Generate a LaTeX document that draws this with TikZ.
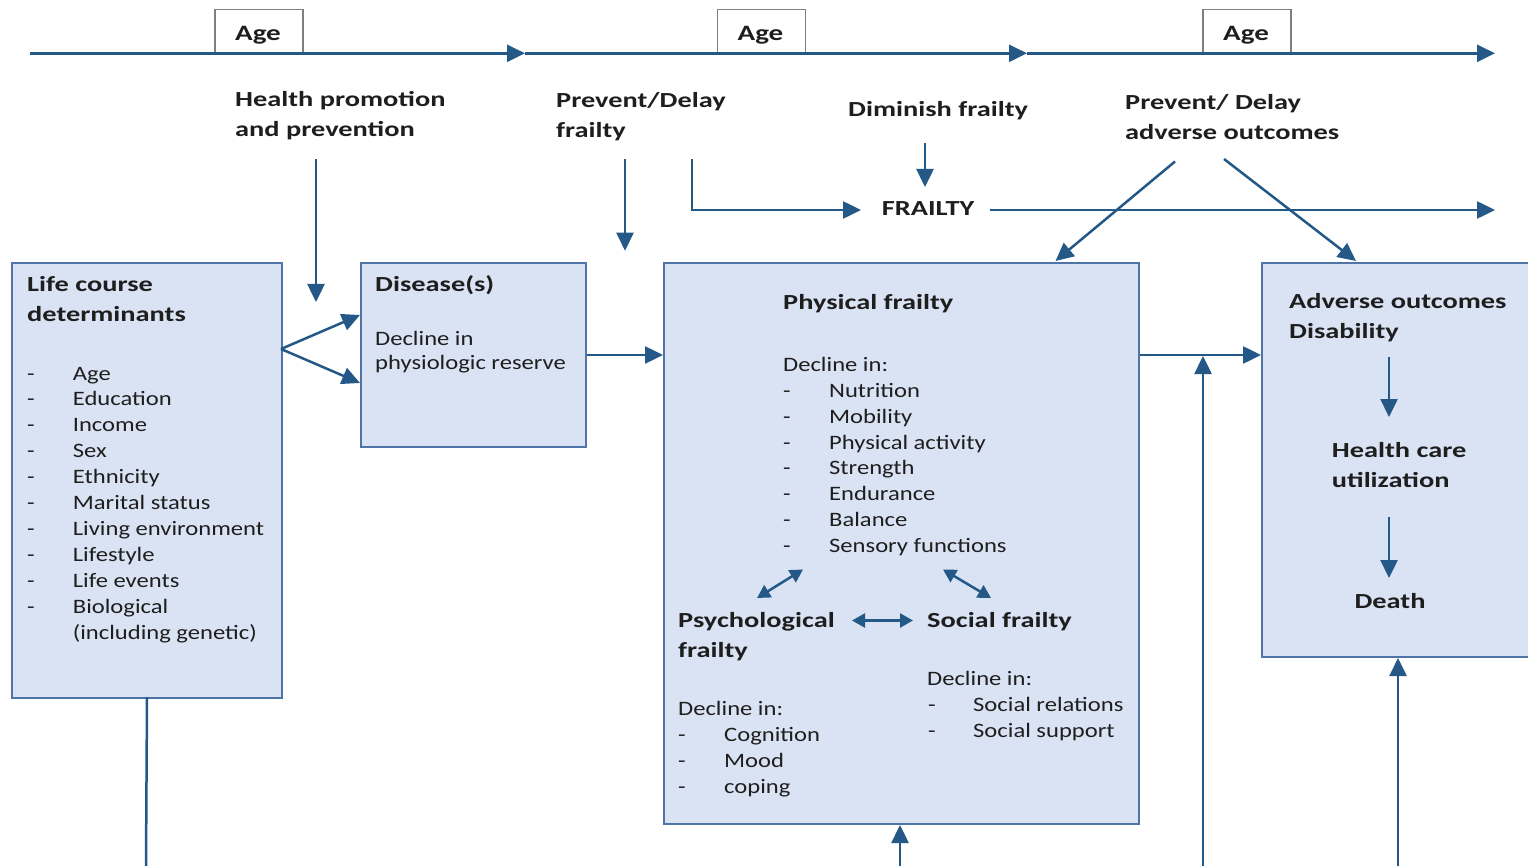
\documentclass[tikz,border=0pt]{standalone}
\usepackage{fontspec}
\setmainfont{Carlito}
\newfontfamily\rfam{Carlito}[FakeStretch=1.2]
\newfontfamily\bfam{Carlito}[FakeStretch=1.32]
\usetikzlibrary{arrows.meta}
\definecolor{arr}{HTML}{245887}
\definecolor{boxfill}{HTML}{DAE3F3}
\definecolor{boxline}{HTML}{4E74A8}
\definecolor{agel}{HTML}{7F7F7F}
\definecolor{txt}{HTML}{1E1E1E}
\begin{document}
\begin{tikzpicture}[x=1pt,y=-1pt,
  box/.style={draw=boxline, fill=boxfill, line width=2pt, inner sep=0pt, anchor=north west},
  agebox/.style={draw=agel, fill=white, line width=1.6pt, inner sep=0pt, minimum width=88pt, minimum height=43pt, anchor=south west},
  agetxt/.style={anchor=base, inner sep=0pt, font=\fontsize{22}{26}\bfam\bfseries, text=txt},
  conn/.style={draw=arr, line width=2.5pt, -{Triangle[length=18pt,width=17pt]}},
  plain/.style={draw=arr, line width=2.5pt},
  dbl/.style={draw=arr, line width=2.5pt, {Triangle[length=13pt,width=14pt]}-{Triangle[length=13pt,width=14pt]}},
  bt/.style={anchor=base west, inner sep=0pt, font=\fontsize{21.5}{30}\bfam\bfseries, text=txt},
  rt/.style={anchor=base west, inner sep=0pt, font=\fontsize{20.5}{25.9}\rfam, text=txt}
]
\clip (0,0) rectangle (1528,866);
\fill[white] (0,0) rectangle (1528,866);

% ---------- top time line ----------
\coordinate (tl0) at (30,53.3);
\coordinate (tl1) at (525,53.3);
\coordinate (tl2) at (1027,53.3);
\coordinate (tl3) at (1495,53.3);
\node[agebox] (age1) at (214,53.3) {};
\node[agebox] (age2) at (716.5,53.3) {};
\node[agebox] (age3) at (1202,53.3) {};
\node[agetxt] (age1t) at (258,40.5) {Age};
\node[agetxt] (age2t) at (760.5,40.5) {Age};
\node[agetxt] (age3t) at (1246,40.5) {Age};
\draw[conn] (tl0) -- (tl1);
\draw[conn] (tl1) -- (tl2);
\draw[conn] (tl2) -- (tl3);

% ---------- intervention labels ----------
\node[bt] (hp1) at (235,106.5) {Health promotion};
\node[bt] (hp2) at (235,136.5) {and prevention};
\node[bt] (pd1) at (556,108) {Prevent/Delay};
\node[bt] (pd2) at (556,138) {frailty};
\node[bt] (dim) at (848,116.7) {Diminish frailty};
\node[bt] (fr) at (881.7,216) {FRAILTY};
\node[bt] (pa1) at (1125,110) {Prevent/ Delay};
\node[bt] (pa2) at (1125,140) {adverse outcomes};

% ---------- boxes ----------
\node[box, minimum width=270pt, minimum height=435pt] (lcd) at (11,262) {};
\node[box, minimum width=225pt, minimum height=184pt] (dis) at (360,262) {};
\node[box, minimum width=475pt, minimum height=561pt] (phys) at (663,262) {};
\node[box, minimum width=280pt, minimum height=394pt] (adv) at (1261,262) {};

% ---------- life course box text ----------
\node[bt] (lct1) at (27,292) {Life course};
\node[bt] (lct2) at (27,322) {determinants};
\foreach \t [count=\i from 0] in {Age,Education,Income,Sex,Ethnicity,Marital status,Living environment,Lifestyle,Life events,Biological}
  \node[rt] (lci\i) at (27,380+25.9*\i) {\makebox[45.7pt][l]{-}\t};
\node[rt] (lci10) at (72.7,639) {(including genetic)};

% ---------- disease box text ----------
\node[bt] (dist) at (375,292) {Disease(s)};
\node[rt] (dis1) at (375,345) {Decline in};
\node[rt] (dis2) at (375,370) {physiologic reserve};

% ---------- physical frailty box text ----------
\node[bt] (pht) at (783,310) {Physical frailty};
\node[rt] (phd) at (783,371.7) {Decline in:};
\foreach \t [count=\i from 0] in {Nutrition,Mobility,Physical activity,Strength,Endurance,Balance,Sensory functions}
  \node[rt] (phi\i) at (783,397.3+25.85*\i) {\makebox[46pt][l]{-}\t};

\node[bt] (pst1) at (678,627) {Psychological};
\node[bt] (pst2) at (678,657.6) {frailty};
\node[rt] (psd) at (678,715) {Decline in:};
\foreach \t [count=\i from 0] in {Cognition,Mood,coping}
  \node[rt] (psi\i) at (678,741+26*\i) {\makebox[46pt][l]{-}\t};

\node[bt] (sot) at (927,627) {Social frailty};
\node[rt] (sod) at (927,685) {Decline in:};
\foreach \t [count=\i from 0] in {Social relations,Social support}
  \node[rt] (soi\i) at (928,711+26*\i) {\makebox[45pt][l]{-}\t};

% ---------- adverse outcomes box text ----------
\node[bt] (adt1) at (1289,309) {Adverse outcomes};
\node[bt] (adt2) at (1289,338.5) {Disability};
\node[bt] (hc1) at (1331.7,457.5) {Health care};
\node[bt] (hc2) at (1331.7,487.7) {utilization};
\node[bt, anchor=base] (death) at (1390,608.7) {Death};

% ---------- coordinates for free connector ends ----------
\coordinate (hpA) at (316,159);
\coordinate (hpB) at (316,302);
\coordinate (pdA) at (625,159);
\coordinate (pdB) at (625,250.7);
\coordinate (lA) at (692,159);
\coordinate (lB) at (692,210);
\coordinate (lC) at (861,210);
\coordinate (dmA) at (925,143.3);
\coordinate (dmB) at (925,187);
\coordinate (frA) at (990,210);
\coordinate (frB) at (1495,210);
\coordinate (paA) at (1175,161.5);
\coordinate (paB) at (1055.5,261);
\coordinate (paC) at (1224,159);
\coordinate (paD) at (1356,261);
\coordinate (fk) at (281,349);
\coordinate (fk1) at (360,315);
\coordinate (fk2) at (360,383);
\coordinate (b1) at (146,866);
\coordinate (b2) at (900,866);
\coordinate (b3) at (1203,866);
\coordinate (b3t) at (1203,356);
\coordinate (b4) at (1398,866);
\coordinate (a1A) at (1389,357);
\coordinate (a1B) at (1389,417);
\coordinate (a2A) at (1389,517);
\coordinate (a2B) at (1389,578);
\coordinate (d1A) at (757,598);
\coordinate (d1B) at (803,569.5);
\coordinate (d2A) at (943,569.5);
\coordinate (d2B) at (991,598);
\coordinate (d3A) at (852,620.5);
\coordinate (d3B) at (913,620.5);

% ---------- connectors ----------
\draw[conn] (hpA) -- (hpB);
\draw[conn] (pdA) -- (pdB);
\draw[conn] (lA) -- (lB) -- (lC);
\draw[conn] (dmA) -- (dmB);
\draw[conn] (frA) -- (frB);
\draw[conn] (paA) -- (paB);
\draw[conn] (paC) -- (paD);
\draw[conn] (fk) -- (fk1);
\draw[conn] (fk) -- (fk2);
\draw[conn] (dis.east) -- (dis.east -| phys.west);
\draw[conn] (dis.east -| phys.east) -- (dis.east -| adv.west);
\draw[plain] (lcd.south |- 0,697) -- (b1);
\draw[conn] (b2) -- (phys.south -| b2);
\draw[conn] (b3) -- (b3t);
\draw[conn] (b4) -- (adv.south -| b4);
\draw[conn] (a1A) -- (a1B);
\draw[conn] (a2A) -- (a2B);
\draw[dbl] (d1A) -- (d1B);
\draw[dbl] (d2A) -- (d2B);
\draw[dbl] (d3A) -- (d3B);
\end{tikzpicture}
\end{document}
